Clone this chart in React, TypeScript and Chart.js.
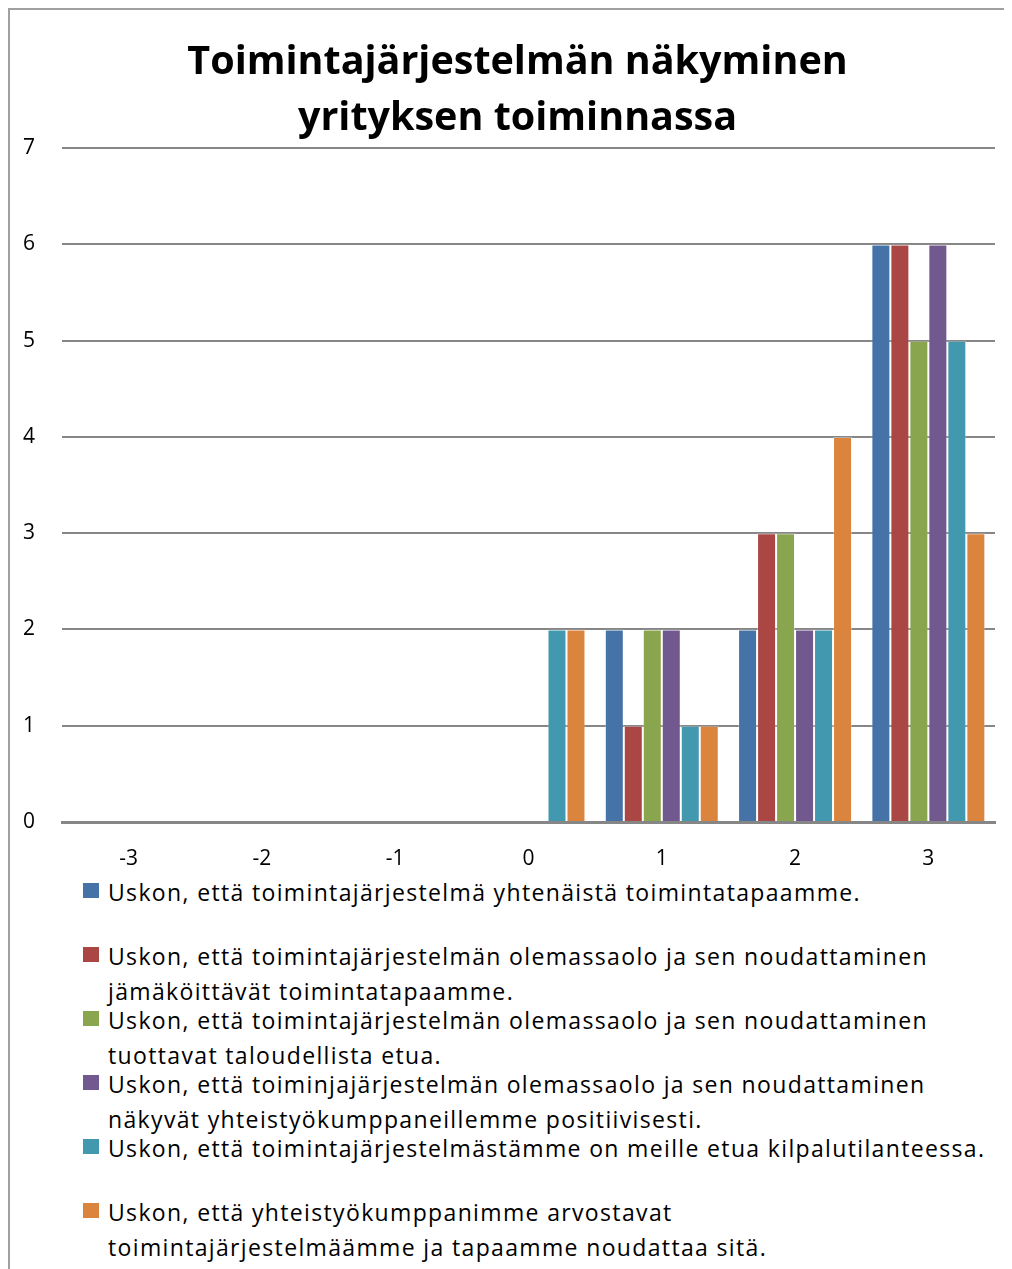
import React, { useEffect, useRef } from "react";
import { Chart, registerables } from "chart.js";
Chart.register(...registerables);

const titleLines = ["Toimintajärjestelmän näkyminen", "yrityksen toiminnassa"];
const categories = ["-3", "-2", "-1", "0", "1", "2", "3"];
const series1 = [0, 0, 0, 0, 2, 2, 6];
const series2 = [0, 0, 0, 0, 1, 3, 6];
const series3 = [0, 0, 0, 0, 2, 3, 5];
const series4 = [0, 0, 0, 0, 2, 2, 6];
const series5 = [0, 0, 0, 2, 1, 2, 5];
const series6 = [0, 0, 0, 2, 1, 4, 3];
const seriesNames: string[][] = [
  ["Uskon, että toimintajärjestelmä yhtenäistä toimintatapaamme."],
  ["Uskon, että toimintajärjestelmän olemassaolo ja sen noudattaminen", "jämäköittävät toimintatapaamme."],
  ["Uskon, että toimintajärjestelmän olemassaolo ja sen noudattaminen", "tuottavat taloudellista etua."],
  ["Uskon, että toiminjajärjestelmän olemassaolo ja sen noudattaminen", "näkyvät yhteistyökumppaneillemme positiivisesti."],
  ["Uskon, että toimintajärjestelmästämme on meille etua kilpalutilanteessa."],
  ["Uskon, että yhteistyökumppanimme arvostavat", "toimintajärjestelmäämme ja tapaamme noudattaa sitä."],
];
const seriesColors = ["#4572A7", "#AA4643", "#89A54E", "#71588F", "#4198AF", "#DB843D"];
const yMin = 0;
const yMax = 7;
const yStep = 1;

const FONT = "'Open Sans', 'Liberation Sans', sans-serif";

const titleShift = {
  id: "titleShift",
  afterLayout(chart: any) {
    const t = chart.titleBlock;
    if (t) {
      t.left += 15;
      t.right += 15;
    }
  },
};

export default function App() {
  const ref = useRef<HTMLCanvasElement | null>(null);
  useEffect(() => {
    document.documentElement.style.overflow = "hidden";
    document.body.style.overflow = "hidden";
    const root = document.getElementById("root");
    if (root) root.style.width = "1004px";
    if (!ref.current) return;
    const allSeries = [series1, series2, series3, series4, series5, series6];
    const chart = new Chart(ref.current, {
      type: "bar",
      data: {
        labels: categories,
        datasets: allSeries.map((d, i) => ({
          label: seriesNames[i].join(" "),
          data: d,
          backgroundColor: seriesColors[i],
          borderColor: "rgba(255,255,255,0.35)",
          borderWidth: 1,
          barPercentage: 1,
          categoryPercentage: 0.855,
        })),
      },
      plugins: [titleShift],
      options: {
        responsive: false,
        animation: false,
        layout: { padding: { left: 0, right: 13, top: 0, bottom: 0 } },
        plugins: {
          legend: { display: false },
          tooltip: { enabled: false },
          title: {
            display: true,
            text: titleLines,
            color: "#000",
            font: { family: FONT, size: 39.5, weight: "bold", lineHeight: 1.42 },
            padding: { top: 25, bottom: 1 },
          },
        },
        scales: {
          x: {
            grid: { display: false, drawTicks: false },
            border: { display: true, color: "#868686", width: 3 },
            ticks: { color: "#000", font: { family: FONT, size: 21 }, padding: 24 },
            afterFit: (s: any) => { s.height = 50; },
          },
          y: {
            min: yMin,
            max: yMax,
            grid: { color: "#868686", lineWidth: 2, drawTicks: false },
            border: { display: false },
            ticks: { stepSize: yStep, color: "#000", font: { family: FONT, size: 21 }, padding: 27 },
            afterFit: (s: any) => { s.width = 52; },
          },
        },
      },
    });
    return () => chart.destroy();
  }, []);

  return (
    <div
      style={{
        width: 1002,
        borderTop: "2px solid #a0a0a0",
        borderLeft: "2px solid #a0a0a0",
        background: "#fff",
        fontFamily: FONT,
        paddingBottom: 12,
      }}
    >
      <canvas ref={ref} width={998} height={862} style={{ display: "block" }} />
      <div style={{ paddingLeft: 73, marginTop: 3 }}>
        {seriesNames.map((lines, i) => (
          <div key={i} style={{ display: "flex", alignItems: "flex-start", height: 64, overflow: "visible" }}>
            <div
              style={{
                width: 16,
                height: 15,
                background: seriesColors[i],
                marginTop: 8,
                marginRight: 9,
                flex: "0 0 auto",
              }}
            />
            <div
              style={{
                fontSize: 23,
                lineHeight: "35px",
                letterSpacing: "1.35px",
                color: "#000",
                whiteSpace: "nowrap",
              }}
            >
              {lines.map((l, j) => (
                <div key={j}>{l}</div>
              ))}
            </div>
          </div>
        ))}
      </div>
    </div>
  );
}
